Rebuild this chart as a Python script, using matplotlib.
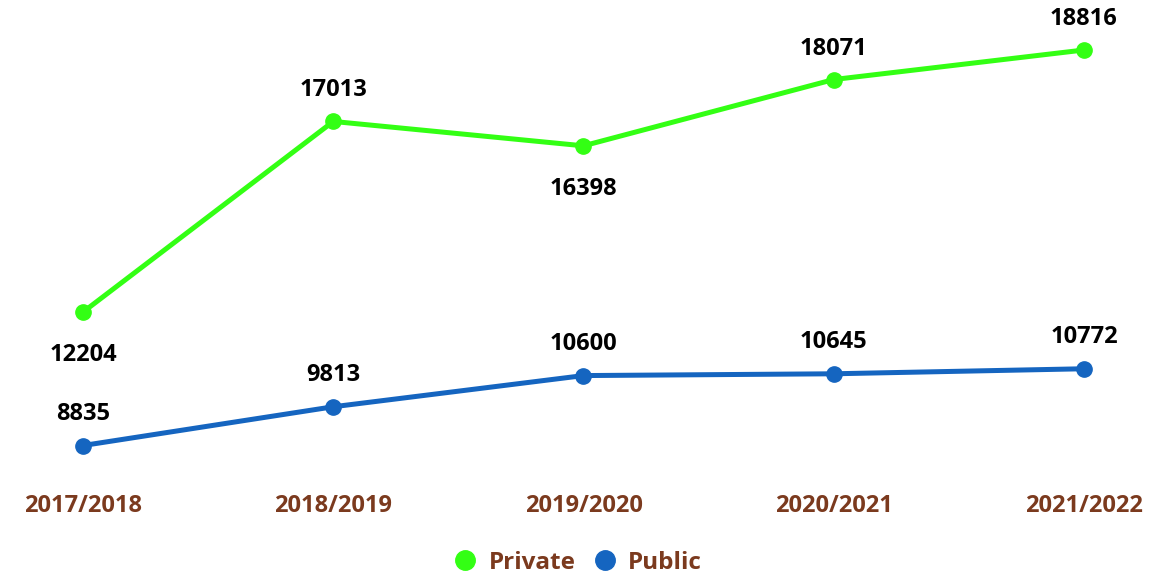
import matplotlib.pyplot as plt
from matplotlib.lines import Line2D

years = ['2017/2018', '2018/2019', '2019/2020', '2020/2021', '2021/2022']
private = [12204, 17013, 16398, 18071, 18816]
public = [8835, 9813, 10600, 10645, 10772]

green = '#33ff14'
blue = '#1565c0'
brown = '#7b3a1e'

plt.rcParams['font.family'] = ['Open Sans', 'DejaVu Sans']
plt.rcParams['font.weight'] = 'bold'

fig = plt.figure(figsize=(11.76, 5.76), dpi=100)
ax = fig.add_axes([0, 0, 1, 1])
x = list(range(len(years)))

ax.plot(x, private, color=green, lw=3.6, marker='o', ms=11, zorder=3)
ax.plot(x, public, color=blue, lw=3.6, marker='o', ms=11, zorder=3)

# labels: below for local dips, above otherwise
for i, v in enumerate(private):
    below = i == 0 or i == 2
    ax.annotate(str(v), (i, v), xytext=(0, -43 if below else 31), textcoords='offset pixels',
                ha='center', va='center', fontsize=17, fontweight='bold', color='black')
for i, v in enumerate(public):
    ax.annotate(str(v), (i, v), xytext=(0, 32), textcoords='offset pixels',
                ha='center', va='center', fontsize=17, fontweight='bold', color='black')

ax.set_xlim(-0.332, 4.368)
ax.set_ylim(5542, 20078)

for i, yr in enumerate(years):
    ax.text(i, 1 - 506 / 576, yr, transform=ax.get_xaxis_transform(), ha='center', va='center',
            fontsize=17, fontweight='bold', color=brown)

ax.axis('off')

handles = [Line2D([], [], ls='', marker='o', ms=14, color=green),
           Line2D([], [], ls='', marker='o', ms=14, color=blue)]
leg = fig.legend(handles, ['Private', 'Public'], loc='center', bbox_to_anchor=(0.491, 1 - 563 / 576),
                 ncol=2, frameon=False, handletextpad=0.45, columnspacing=0.7, handlelength=1.0,
                 prop={'size': 17.5, 'weight': 'bold'})
for t in leg.get_texts():
    t.set_color(brown)

fig.savefig('out.png', dpi=100)
